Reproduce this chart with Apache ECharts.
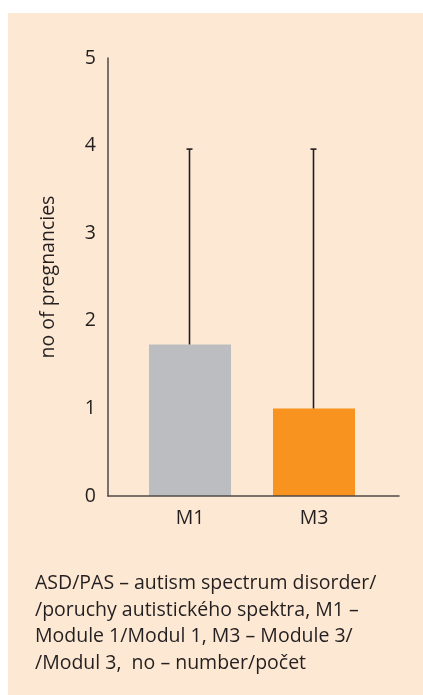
<!DOCTYPE html>
<html>
<head>
<meta charset="utf-8">
<script src="https://cdn.jsdelivr.net/npm/echarts@6/dist/echarts.min.js"></script>
<style>
  html, body { margin: 0; padding: 0; background: #ffffff; }
  #chart { width: 423px; height: 695px; }
</style>
</head>
<body>
<div id="chart"></div>
<script>
// Pregnancy counts by ADOS module (mean with upper range whisker)
const categories = ['M1', 'M3'];
const meanValues = [1.73, 1.0];
const upperValues = [3.96, 3.96];
const barColors = ['#bcbdc0', '#f7931e'];
const yTicks = [0, 1, 2, 3, 4, 5];
const yAxisName = 'no of pregnancies';
const footnoteLines = [
  'ASD/PAS – autism spectrum disorder/',
  '/poruchy autistického spektra, M1 –',
  'Module 1/Modul 1, M3 – Module 3/',
  '/Modul 3,  no – number/počet'
];

const FONT = '"Open Sans", "Noto Sans", sans-serif';
const TEXT = '#231f20';
const AXIS = '#4d4a48';
const FS = 19.5;

const chart = echarts.init(document.getElementById('chart'), null, { renderer: 'canvas' });

const yMin = yTicks[0];
const yMax = yTicks[yTicks.length - 1];
const yStep = yTicks[1] - yTicks[0];

chart.setOption({
  backgroundColor: '#ffffff',
  animation: false,
  graphic: [
    {
      type: 'rect',
      z: -10,
      shape: { x: 8, y: 13, width: 415, height: 682 },
      style: { fill: '#fde9d3' }
    },
    {
      type: 'text',
      left: 35,
      top: 570,
      style: {
        text: footnoteLines.join('\n'),
        font: FS + 'px ' + FONT,
        fill: TEXT,
        lineHeight: 26.7
      }
    }
  ],
  grid: [
    { left: 108, top: 58, width: 291, height: 438 },
    { left: 128, top: 58, width: 248, height: 438 }
  ],
  xAxis: [
    {
      gridIndex: 0,
      type: 'category',
      data: [''],
      z: 10,
      axisLine: { show: true, lineStyle: { color: AXIS, width: 1.5 } },
      axisTick: { show: false },
      axisLabel: { show: false },
      splitLine: { show: false }
    },
    {
      gridIndex: 1,
      type: 'category',
      data: categories,
      axisLine: { show: false },
      axisTick: { show: false },
      axisLabel: { fontSize: FS, fontFamily: FONT, color: TEXT, margin: 12 },
      splitLine: { show: false }
    }
  ],
  yAxis: [
    {
      gridIndex: 0,
      type: 'value',
      min: yMin,
      max: yMax,
      interval: yStep,
      z: 10,
      name: yAxisName,
      nameLocation: 'middle',
      nameGap: 50,
      nameTextStyle: { fontSize: FS, fontFamily: FONT, color: TEXT },
      axisLine: { show: true, lineStyle: { color: AXIS, width: 1.5 } },
      axisTick: { show: false },
      axisLabel: { fontSize: FS, fontFamily: FONT, color: TEXT, margin: 12 },
      splitLine: { show: false }
    },
    {
      gridIndex: 1,
      type: 'value',
      min: yMin,
      max: yMax,
      interval: yStep,
      show: false,
      splitLine: { show: false }
    }
  ],
  series: [
    {
      type: 'bar',
      xAxisIndex: 1,
      yAxisIndex: 1,
      barWidth: 82,
      data: meanValues.map((v, i) => ({ value: v, itemStyle: { color: barColors[i] } }))
    },
    {
      type: 'custom',
      xAxisIndex: 1,
      yAxisIndex: 1,
      z: 5,
      data: categories.map((c, i) => [i, meanValues[i], upperValues[i]]),
      renderItem: function (params, api) {
        const x = api.value(0);
        const low = api.coord([x, api.value(1)]);
        const high = api.coord([x, api.value(2)]);
        const cx = Math.round(low[0]) - 0.5;
        const style = { stroke: '#231f20', lineWidth: 1.6 };
        return {
          type: 'group',
          children: [
            { type: 'line', shape: { x1: cx, y1: low[1], x2: cx, y2: high[1] }, style: style },
            { type: 'line', shape: { x1: cx - 3, y1: high[1], x2: cx + 3, y2: high[1] }, style: style }
          ]
        };
      }
    }
  ]
});
</script>
</body>
</html>
